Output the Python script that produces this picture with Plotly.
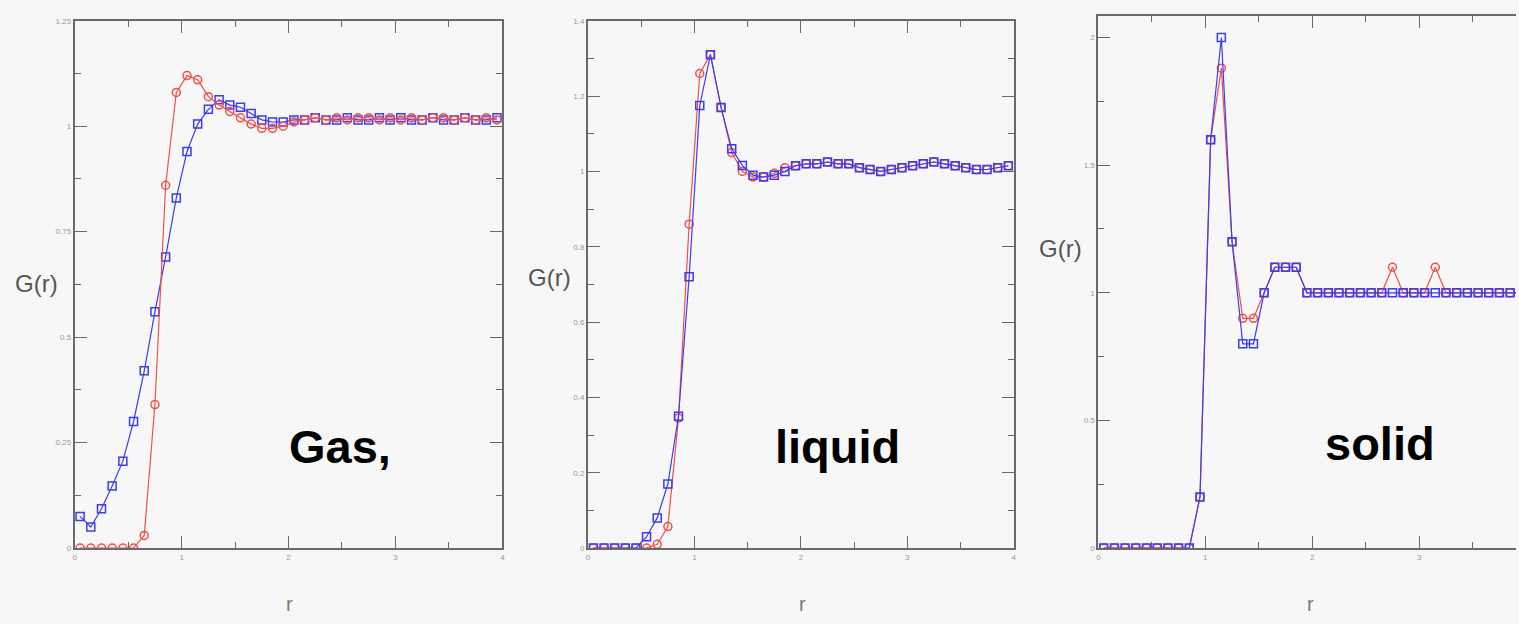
import plotly.graph_objects as go

# ---------------- data ----------------
r = [round(0.05 + 0.1 * k, 2) for k in range(40)]

gas_red = [0, 0, 0, 0, 0, 0, 0.03, 0.34, 0.86, 1.08,
           1.12, 1.11, 1.07, 1.05, 1.035, 1.02, 1.005, 0.995, 0.995, 1.0,
           1.01, 1.015, 1.02, 1.015, 1.02, 1.015, 1.02, 1.02, 1.015, 1.02,
           1.015, 1.02, 1.015, 1.02, 1.02, 1.015, 1.02, 1.015, 1.02, 1.015]
gas_blue = [0.075, 0.05, 0.093, 0.147, 0.206, 0.30, 0.42, 0.56, 0.69, 0.83,
            0.94, 1.005, 1.04, 1.063, 1.05, 1.045, 1.03, 1.015, 1.01, 1.01,
            1.015, 1.015, 1.02, 1.015, 1.015, 1.02, 1.015, 1.015, 1.02, 1.015,
            1.02, 1.015, 1.015, 1.02, 1.015, 1.015, 1.02, 1.015, 1.015, 1.02]

liq_red = [0, 0, 0, 0, 0, 0, 0.01, 0.057, 0.345, 0.86,
           1.26, 1.31, 1.17, 1.05, 1.0, 0.985, 0.985, 0.995, 1.01, 1.015,
           1.02, 1.02, 1.025, 1.02, 1.02, 1.01, 1.005, 1.0, 1.005, 1.01,
           1.015, 1.02, 1.025, 1.02, 1.015, 1.01, 1.005, 1.005, 1.01, 1.015]
liq_blue = [0, 0, 0, 0, 0, 0.03, 0.08, 0.17, 0.35, 0.72,
            1.175, 1.31, 1.17, 1.06, 1.016, 0.99, 0.985, 0.99, 1.0, 1.015,
            1.02, 1.02, 1.025, 1.02, 1.02, 1.01, 1.005, 1.0, 1.005, 1.01,
            1.015, 1.02, 1.025, 1.02, 1.015, 1.01, 1.005, 1.005, 1.01, 1.015]

sol_red = [0, 0, 0, 0, 0, 0, 0, 0, 0, 0.2,
           1.6, 1.88, 1.2, 0.9, 0.9, 1.0, 1.1, 1.1, 1.1, 1.0,
           1.0, 1.0, 1.0, 1.0, 1.0, 1.0, 1.0, 1.1, 1.0, 1.0,
           1.0, 1.1, 1.0, 1.0, 1.0, 1.0, 1.0, 1.0, 1.0, 1.0]
sol_blue = [0, 0, 0, 0, 0, 0, 0, 0, 0, 0.2,
            1.6, 2.0, 1.2, 0.8, 0.8, 1.0, 1.1, 1.1, 1.1, 1.0,
            1.0, 1.0, 1.0, 1.0, 1.0, 1.0, 1.0, 1.0, 1.0, 1.0,
            1.0, 1.0, 1.0, 1.0, 1.0, 1.0, 1.0, 1.0, 1.0, 1.0]

panel_labels = ["Gas,", "liquid", "solid"]
x_ticks = [0, 1, 2, 3, 4]
y_ticks_gas = [0, 0.25, 0.5, 0.75, 1, 1.25]
y_ticks_liq = [0, 0.2, 0.4, 0.6, 0.8, 1, 1.2, 1.4]
y_ticks_sol = [0, 0.5, 1, 1.5, 2]

# ---------------- figure ----------------
W, H = 1519, 624
RED = "#f0504a"
BLUE = "#3c3cf0"
BG = "#f7f7f7"

def px(x):
    return x / W

def py(y):
    return 1 - y / H

fig = go.Figure()

def add_series(xaxis, yaxis, yv, color, symbol):
    fig.add_trace(go.Scatter(
        x=r, y=yv, xaxis=xaxis, yaxis=yaxis, mode="lines+markers",
        line=dict(color=color, width=1.2),
        marker=dict(symbol=symbol, size=8, color=color, line=dict(color=color, width=1.5)),
        showlegend=False, cliponaxis=True))

# gas: blue under red
add_series("x", "y", gas_blue, BLUE, "square-open")
add_series("x", "y", gas_red, RED, "circle-open")
# liquid: red under blue
add_series("x2", "y2", liq_red, RED, "circle-open")
add_series("x2", "y2", liq_blue, BLUE, "square-open")
# solid: red under blue
add_series("x3", "y3", sol_red, RED, "circle-open")
add_series("x3", "y3", sol_blue, BLUE, "square-open")

axis_common = dict(
    showline=True, linecolor="#6a6a6a", linewidth=2,
    ticks="inside", ticklen=12, tickwidth=1.3, tickcolor="#6a6a6a",
    showgrid=False, zeroline=False,
    tickfont=dict(size=8, color="#9a9a9a", family="Liberation Sans"),
)

def xaxis(dom, anchor, rng, mirror=True):
    d = dict(axis_common)
    d.update(domain=dom, anchor=anchor, range=rng, tickvals=x_ticks,
             ticktext=[str(t) for t in x_ticks], mirror="allticks" if mirror else False,
             minor=dict(ticks="inside", dtick=0.5, tick0=0, ticklen=6, tickcolor="#6a6a6a", tickwidth=1.2))
    return d

def yaxis(dom, anchor, rng, vals, minor_dt, mirror=True):
    d = dict(axis_common)
    d.update(domain=dom, anchor=anchor, range=rng, tickvals=vals,
             ticktext=[("%g" % v) for v in vals], mirror="allticks" if mirror else False,
             minor=dict(ticks="inside", dtick=minor_dt, tick0=0, ticklen=6, tickcolor="#6a6a6a", tickwidth=1.2))
    return d

ydom12 = [py(552), py(17)]
ydom3 = [py(552), py(12)]

fig.update_layout(
    width=W, height=H,
    margin=dict(l=0, r=0, t=0, b=0),
    paper_bgcolor=BG, plot_bgcolor=BG,
    xaxis=xaxis([px(73), px(502)], "y", [0, 4]),
    yaxis=yaxis(ydom12, "x", [0, 1.25], y_ticks_gas, 0.125),
    xaxis2=xaxis([px(588), px(1015)], "y2", [0, 4]),
    yaxis2=yaxis(ydom12, "x2", [0, 1.4], y_ticks_liq, 0.1),
    xaxis3=xaxis([px(1100), 1.0], "y3", [0, (1519 - 1100) / 107.3]),
    yaxis3=yaxis(ydom3, "x3", [0, 2.085], y_ticks_sol, 0.25, mirror=False),
)

# axis titles as annotations
ann = []
for (xc, yc) in [(35, 284), (549, 278), (1062, 248)]:
    ann.append(dict(text="G(r)", x=px(xc), y=py(yc), xref="paper", yref="paper",
                    xanchor="center", yanchor="middle",
                    showarrow=False, font=dict(size=24, color="#555555", family="Liberation Sans")))
for xc in [288, 803, 1313]:
    ann.append(dict(text="r", x=px(xc), y=py(609), xref="paper", yref="paper",
                    xanchor="center", yanchor="middle",
                    showarrow=False, font=dict(size=20, color="#777777", family="Liberation Sans")))
for label, (xc, yc) in zip(panel_labels, [(339, 449), (838, 449), (1383, 446)]):
    ann.append(dict(text="<b>%s</b>" % label, x=px(xc), y=py(yc), xref="paper", yref="paper",
                    xanchor="center", yanchor="middle",
                    showarrow=False, font=dict(size=47, color="#000000", family="Liberation Sans")))
fig.update_layout(annotations=ann)

fig.write_html("out.html")
